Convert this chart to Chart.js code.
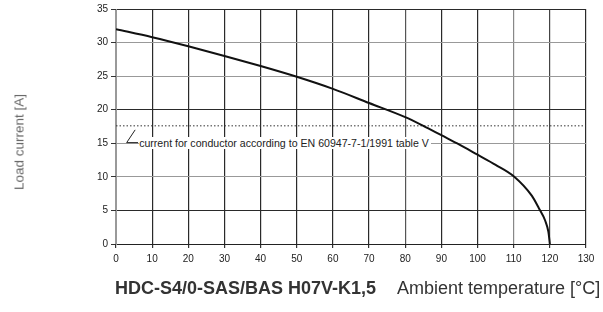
<!DOCTYPE html>
<html>
<head>
<meta charset="utf-8">
<script src="https://cdn.jsdelivr.net/npm/chart.js@4/dist/chart.umd.min.js"></script>
<style>
body{margin:0;position:relative;width:603px;height:312px;overflow:hidden;background:#fff;font-family:'Liberation Sans',Arial,sans-serif}
canvas{position:absolute;left:0;top:0}
.t{position:absolute;white-space:nowrap;color:#333}
#prod{left:115px;top:279px;font-size:18px;line-height:18px;font-weight:bold}
#xtitle{left:397px;top:279px;font-size:18px;line-height:18px}
#ytitle{left:19px;top:141.5px;font-size:13.5px;color:#666;transform:translate(-50%,-50%) rotate(-90deg)}
#note{font-size:10.6px;line-height:12px;height:12px;color:#222;background:#fff;padding-right:2px}
</style>
</head>
<body>
<canvas id="loadChart" width="603" height="312"></canvas>
<div class="t" id="note"></div>
<div class="t" id="prod"></div>
<div class="t" id="xtitle"></div>
<div class="t" id="ytitle"></div>
<script>
// derating curve
const temps=[0,10,20,30,40,50,60,70,80,85,90,95,100,105,110,115,117,118.7,119.6,120]
const currents=[32,30.8,29.45,28.0,26.5,24.9,23.1,21.0,18.9,17.6,16.2,14.8,13.3,11.8,10.1,7.2,5.3,3.5,1.8,0]

// conductor limit line and its leader
const limitX=[0,130]
const limitY=[17.6,17.6]
const leaderX=[5.3,2.95,6.1]
const leaderY=[17.0,15.1,15.1]

const noteText="current for conductor according to EN 60947-7-1/1991 table V"
const noteAt={x:6.4,y:15}
const productText="HDC-S4/0-SAS/BAS H07V-K1,5"
const xTitle="Ambient temperature [°C]"
const yTitle="Load current [A]"

const xGridColors=["#999","#2a2a2a","#2a2a2a","#2a2a2a","#2a2a2a","#2a2a2a","#2a2a2a","#2a2a2a","#555","#2a2a2a","#2a2a2a","#888","#444","#2a2a2a"]
const yGridColors=["#2a2a2a","#2a2a2a","#999","#999","#2a2a2a","#999","#999","#2a2a2a"]

const pts=(xs,ys)=>xs.map((x,i)=>({x:x,y:ys[i]}))
const tickFont={family:"'Liberation Sans', Arial, sans-serif",size:10}

const chart=new Chart(document.getElementById("loadChart"),{
type:"scatter",
data:{
datasets:[{
label:"Load current",
data:pts(temps,currents),
showLine:true,
borderColor:"#111",
borderWidth:2,
pointRadius:0,
cubicInterpolationMode:"monotone"
},{
label:"Conductor limit",
data:pts(limitX,limitY),
showLine:true,
borderColor:"#333",
borderWidth:1,
borderDash:[1.5,2],
pointRadius:0
},{
label:"Leader",
data:pts(leaderX,leaderY),
showLine:true,
borderColor:"#222",
borderWidth:1,
pointRadius:0
}]
},
options:{
responsive:false,
animation:false,
layout:{padding:{left:0,right:17,top:9,bottom:0}},
plugins:{legend:{display:false},tooltip:{enabled:false}},
scales:{
x:{
type:"linear",min:0,max:130,
afterFit(s){s.height=68},
ticks:{stepSize:10,padding:5,color:"#222",font:tickFont},
grid:{color:xGridColors,lineWidth:1.2,tickLength:4,tickColor:"#333"},
border:{color:"#222",width:1}
},
y:{
type:"linear",min:0,max:35,
afterFit(s){s.width=116},
ticks:{stepSize:5,padding:3,color:"#222",font:tickFont},
grid:{color:yGridColors,lineWidth:1,tickLength:5,tickColor:"#333"},
border:{color:"#999",width:1}
}
}
}
})

// texts
document.getElementById("prod").textContent=productText
document.getElementById("xtitle").textContent=xTitle
document.getElementById("ytitle").textContent=yTitle
const note=document.getElementById("note")
note.textContent=noteText
note.style.left=chart.scales.x.getPixelForValue(noteAt.x)+"px"
note.style.top=(chart.scales.y.getPixelForValue(noteAt.y)-6)+"px"
</script>
</body>
</html>
